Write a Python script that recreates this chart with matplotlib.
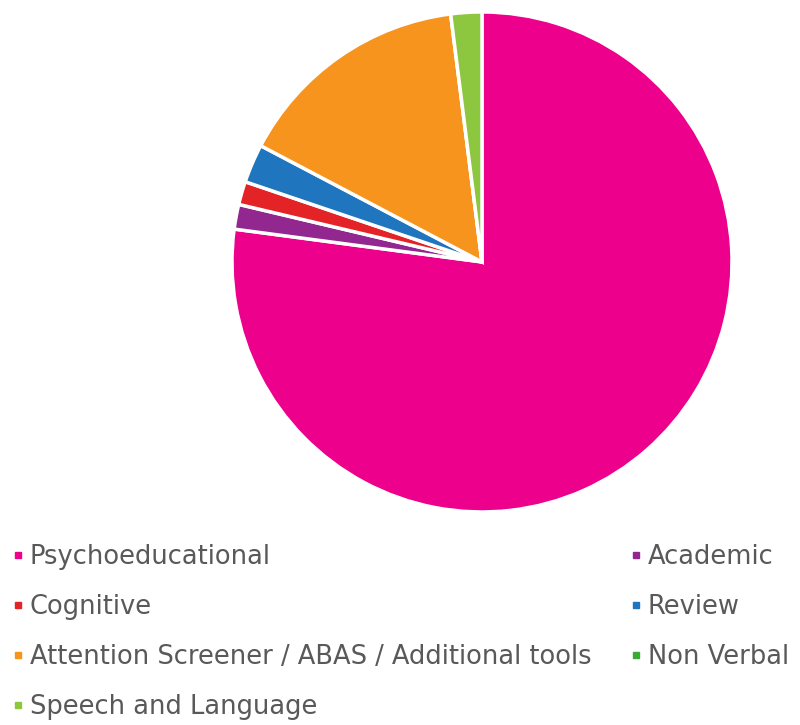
import matplotlib
matplotlib.use("Agg")
import matplotlib.pyplot as plt
from matplotlib.lines import Line2D

# assessment types and their share of referrals
categories = ["Psychoeducational", "Academic", "Cognitive", "Review",
              "Attention Screener / ABAS / Additional tools", "Non Verbal",
              "Speech and Language"]
shares = [77.1, 1.6, 1.5, 2.5, 15.3, 0.0, 2.0]
colors = ["#EC008C", "#92278F", "#E42327", "#1F75BE", "#F7941D",
          "#3AAA35", "#8DC63F"]

fig = plt.figure(figsize=(8, 7.25), dpi=100)
ax = fig.add_axes([0.29, 0.2938, 0.625, 0.6897])
wedges, _ = ax.pie(shares, colors=colors, startangle=90, counterclock=False,
                   wedgeprops=dict(edgecolor="white", linewidth=2.5))
ax.set_xlim(-1, 1)
ax.set_ylim(-1, 1)
ax.set_aspect("equal")

# legend reads row by row, so order handles column-wise
handles = [Line2D([], [], marker="s", linestyle="none", markersize=5,
                  markerfacecolor=c, markeredgecolor=c) for c in colors]
order = [0, 2, 4, 6, 1, 3, 5]
leg = fig.legend([handles[i] for i in order], [categories[i] for i in order],
                 ncol=2, loc="upper left", bbox_to_anchor=(0.016, 0.249),
                 frameon=False, fontsize=18.5, handlelength=0.4,
                 handletextpad=0.25, labelspacing=0.93, columnspacing=1.55,
                 borderaxespad=0, borderpad=0)
for t in leg.get_texts():
    t.set_color("#595959")

fig.savefig("out.png", dpi=100)
